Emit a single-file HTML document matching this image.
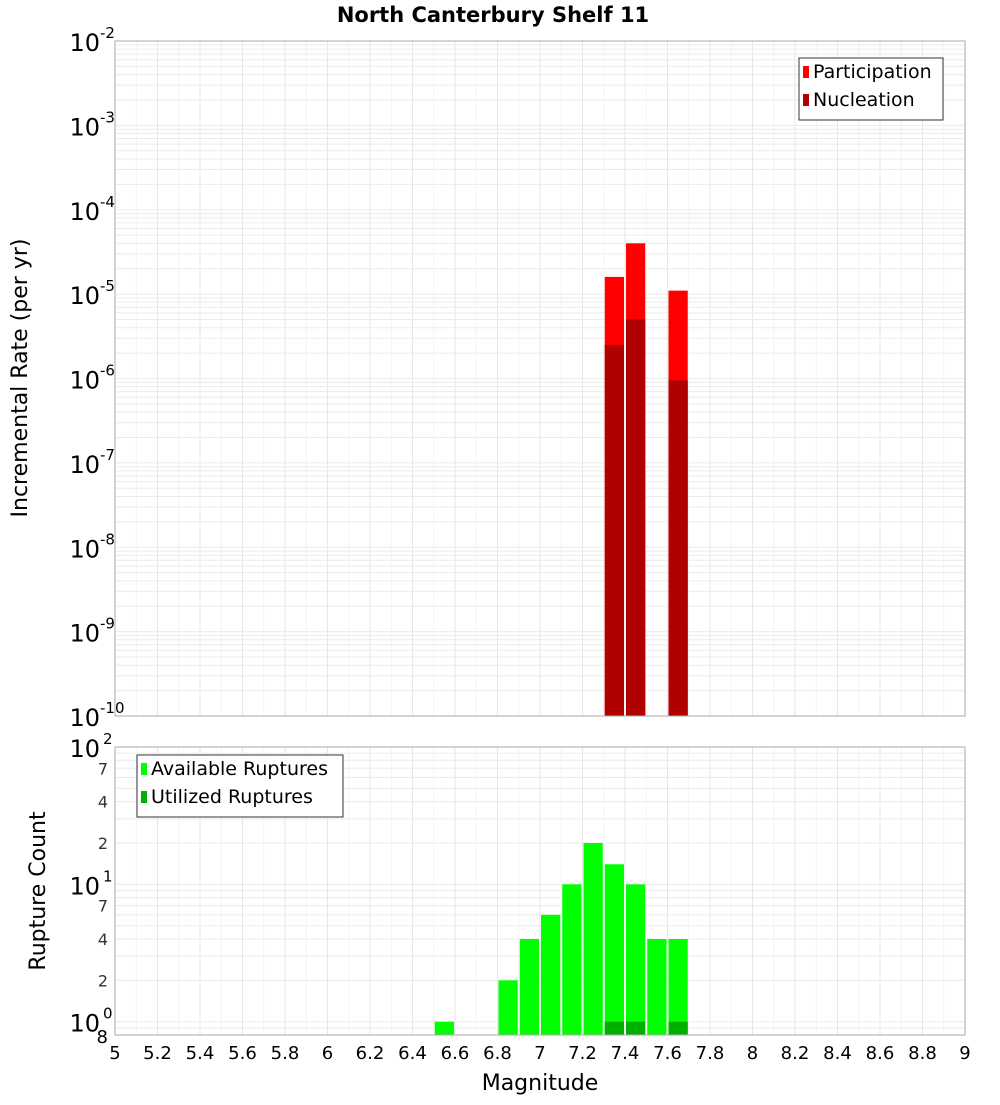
<!DOCTYPE html>
<html><head><meta charset="utf-8"><style>
body{margin:0;background:#fff;}
svg text{font-family:"DejaVu Sans","Liberation Sans",sans-serif;}
</style></head><body>
<svg id="chart" width="1000" height="1100" xmlns="http://www.w3.org/2000/svg">
<text x="493" y="22" text-anchor="middle" font-size="21" font-weight="bold">North Canterbury Shelf 11</text>
<g id="topG"></g>
<g id="botG"></g>
<text transform="translate(27,378) rotate(-90)" text-anchor="middle" font-size="22">Incremental Rate (per yr)</text>
<text transform="translate(45,891) rotate(-90)" text-anchor="middle" font-size="22">Rupture Count</text>
<text x="540" y="1090" text-anchor="middle" font-size="22">Magnitude</text>
</svg>
<script>
const partMags=[7.35,7.45,7.65];
const partRates=[1.6e-5,4e-5,1.1e-5];
const nuclMags=[7.35,7.45,7.65];
const nuclRates=[2.5e-6,5e-6,9.5e-7];
const availMags=[6.55,6.85,6.95,7.05,7.15,7.25,7.35,7.45,7.55,7.65];
const availCounts=[1,2,4,6,10,20,14,10,4,4];
const usedMags=[7.35,7.45,7.65];
const usedCounts=[1,1,1];
const xTicks=["5","5.2","5.4","5.6","5.8","6","6.2","6.4","6.6","6.8","7","7.2","7.4","7.6","7.8","8","8.2","8.4","8.6","8.8","9"];
const topExps=[-2,-3,-4,-5,-6,-7,-8,-9,-10];
const botTicks=["7","4","2","7","4","2"];

const NS="http://www.w3.org/2000/svg";
const X0=115,X1=965;
const xs=m=>X0+(m-5)/4*(X1-X0);
const T0=41,T1=716;
const yTop=v=>T0+(-2-Math.log10(v))/8*(T1-T0);
const B0=747,B1=1035;
const LB=Math.log10(0.8),LT=2;
const yBot=v=>B0+(LT-Math.log10(v))/(LT-LB)*(B1-B0);
function el(p,t,a){const e=document.createElementNS(NS,t);for(const k in a)e.setAttribute(k,a[k]);p.appendChild(e);return e;}
const topG=document.getElementById('topG'),botG=document.getElementById('botG');

function grid(g,y0,y1,yf,vals){
  for(let i=0;i<=40;i++){const x=xs(5+i*0.1);
    const l=el(g,'line',{x1:x,x2:x,y1:y0,y2:y1,stroke:i%2?'#f4f4f4':'#e6e6e6','stroke-width':1});
    }
  vals.forEach(v=>{const y=yf(v);
    const l=el(g,'line',{x1:X0,x2:X1,y1:y,y2:y,stroke:'#ebebeb','stroke-width':1});
    });
}
let tv=[];for(let e=-10;e<-2;e++)for(let k=1;k<10;k++)tv.push(k*Math.pow(10,e));
grid(topG,T0,T1,yTop,tv);
let bv=[0.9];for(let e=0;e<2;e++)for(let k=1;k<10;k++)bv.push(k*Math.pow(10,e));
grid(botG,B0,B1,yBot,bv);

const bw=(X1-X0)/40-2;
function bars(g,mags,vals,yf,base,col,name){
  mags.forEach((m,i)=>{const y=yf(vals[i]);
    const r=el(g,'rect',{x:xs(m)-bw/2,y:y,width:bw,height:base-y,fill:col});
    });
}
bars(topG,partMags,partRates,yTop,T1,'#ff0000','participation-bar');
bars(topG,nuclMags,nuclRates,yTop,T1,'#b00000','nucleation-bar');
bars(botG,availMags,availCounts,yBot,B1,'#00ff00','available-bar');
bars(botG,usedMags,usedCounts,yBot,B1,'#00b000','utilized-bar');

[[topG,T0,T1],[botG,B0,B1]].forEach(([g,a,b])=>{const r=el(g,'rect',{x:X0,y:a,width:X1-X0,height:b-a,fill:'none',stroke:'#aaa'});
  });

topExps.forEach(e=>{const y=yTop(Math.pow(10,e));
  const t=el(topG,'text',{x:100,y:y+10,'text-anchor':'end','font-size':24});
  
  t.textContent='10';
  const s=el(topG,'text',{x:100,y:y-3,'font-size':15});
  
  s.textContent=String(e);});
[[100,'2'],[10,'1'],[1,'0']].forEach(([v,ex])=>{const y=yBot(v);
  const t=el(botG,'text',{x:100,y:y+10,'text-anchor':'end','font-size':24});
  t.textContent='10';
  const s=el(botG,'text',{x:103,y:y-3,'font-size':15});
  s.textContent=ex;});
const botVals=[70,40,20,7,4,2];
botTicks.forEach((lab,i)=>{const y=yBot(botVals[i]);
  const t=el(botG,'text',{x:108,y:y+6,'text-anchor':'end','font-size':16,fill:'#333'});
  t.textContent=lab;});
{const t=el(botG,'text',{x:108,y:B1+8,'text-anchor':'end','font-size':18});
  t.textContent='8';}
xTicks.forEach(l=>{const x=xs(parseFloat(l));
  const t=el(botG,'text',{x:x,y:1059,'text-anchor':'middle','font-size':18});
  t.textContent=l;});

function legend(g,x,y,w,items){
  const r=el(g,'rect',{x:x,y:y,width:w,height:62,fill:'#fff',stroke:'#333'});
  
  items.forEach(([lab,col],i)=>{
    const s=el(g,'rect',{x:x+4,y:y+14+i*28-6,width:6,height:12,fill:col});
    
    const t=el(g,'text',{x:x+14,y:y+20+i*28,'font-size':19});
    t.textContent=lab;});
}
legend(topG,799,58,144,[['Participation','#ff0000'],['Nucleation','#b00000']]);
legend(botG,137,755,206,[['Available Ruptures','#00ff00'],['Utilized Ruptures','#00b000']]);
</script>
</body></html>
